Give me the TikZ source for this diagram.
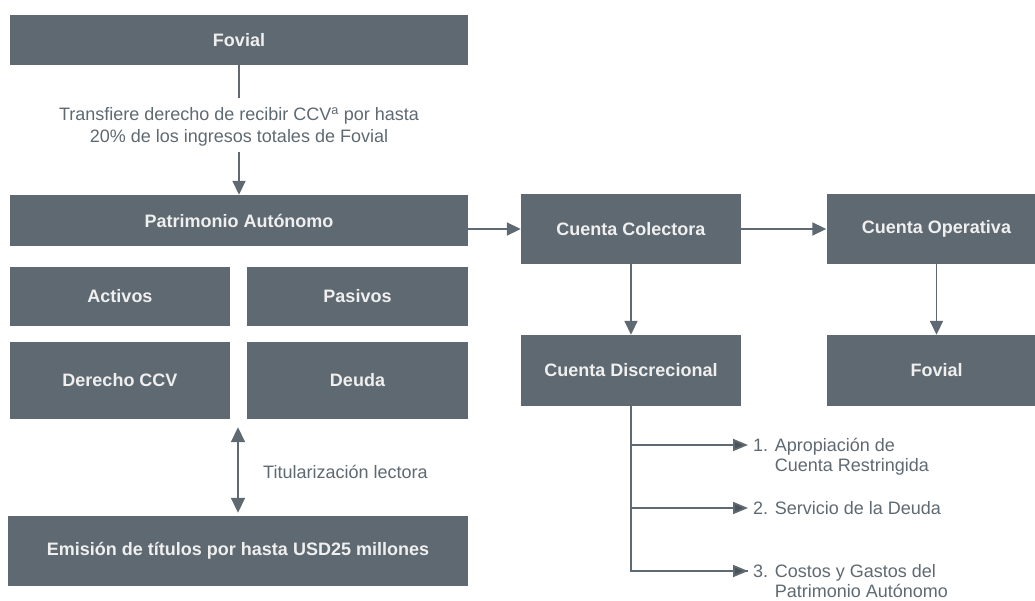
\documentclass[tikz,border=0pt]{standalone}
\usepackage{fontspec}
\setmainfont{Liberation Sans}
\usepackage{xcolor}
\usetikzlibrary{arrows.meta}
\definecolor{boxgray}{HTML}{5E6971}
\definecolor{boxtext}{HTML}{EFEFEF}
\definecolor{labelgray}{HTML}{5E6971}
\definecolor{tipgray}{HTML}{4D5358}
\tikzstyle{cuenta} = [rectangle, fill=boxgray, text=boxtext, inner sep=0pt,
    font=\fontsize{18}{21}\selectfont\bfseries]
\tikzstyle{texto} = [text=labelgray, inner sep=0pt, font=\fontsize{18}{21.5}\selectfont]
\tikzstyle{lista} = [text=labelgray, inner sep=0pt, font=\fontsize{18}{20}\selectfont]
\tikzstyle{flecha} = [draw=boxgray, line width=1.8pt, -{Triangle[width=13pt,length=14pt]}]
\tikzstyle{rama} = [draw=boxgray, line width=1.8pt, -{Triangle[width=12pt,length=15pt,fill=tipgray]}]

\begin{document}
\begin{tikzpicture}[x=1pt, y=-1pt]
\useasboundingbox (0,0) rectangle (1035,601);
\node[cuenta, minimum width=458pt, minimum height=50pt] (fovial) at (239,40) {Fovial};
\node[cuenta, minimum width=458pt, minimum height=51pt] (patrimonio) at (239,220.5) {Patrimonio Autónomo};
\node[cuenta, minimum width=220pt, minimum height=59pt] (activos) at (120,296.5) {Activos};
\node[cuenta, minimum width=221pt, minimum height=59pt] (pasivos) at (357.5,296.5) {Pasivos};
\node[cuenta, minimum width=220pt, minimum height=77pt] (derecho) at (120,380.5) {Derecho CCV};
\node[cuenta, minimum width=221pt, minimum height=77pt] (deuda) at (357.5,380.5) {Deuda};
\node[cuenta, minimum width=460pt, minimum height=70pt] (emision) at (238,551) {Emisión de títulos por hasta USD25 millones};
\node[cuenta, minimum width=220pt, minimum height=70pt] (colectora) at (631,229) {Cuenta Colectora};
\node[cuenta, minimum width=220pt, minimum height=70pt] (operativa) at (936.5,229) {Cuenta Operativa};
\node[cuenta, minimum width=220pt, minimum height=71pt] (discrecional) at (631,370.5) {Cuenta Discrecional};
\node[cuenta, minimum width=220pt, minimum height=71pt] (fovialdos) at (936.5,370.5) {Fovial};

\node[texto, align=center] (transf) at (239,127)
    {Transfiere derecho de recibir CCV\textsuperscript{a} por hasta\\20\% de los ingresos totales de Fovial};
\node[texto, anchor=west] (titular) at (263,472) {Titularización lectora};

\coordinate (uno) at (748,445);
\coordinate (dos) at (748,508);
\coordinate (tres) at (748,571);
\node[lista, anchor=base west] (apropiacion) at ([xshift=5pt, yshift=-6pt]uno)
    {\begin{tabular}[t]{@{}l@{ }l@{}}1. & Apropiación de\\ & Cuenta Restringida\end{tabular}};
\node[lista, anchor=base west] (servicio) at ([xshift=5pt, yshift=-6pt]dos) {2. Servicio de la Deuda};
\node[lista, anchor=base west] (costos) at ([xshift=5pt, yshift=-6pt]tres)
    {\begin{tabular}[t]{@{}l@{ }l@{}}3. & Costos y Gastos del\\ & Patrimonio Autónomo\end{tabular}};

\draw[draw=boxgray, line width=1.8pt, shorten >=10pt] (fovial.south) -- (transf.north);
\draw[flecha, shorten <=6pt] (transf.south) -- (patrimonio.north);
\draw[flecha] (patrimonio.east |- colectora.west) -- (colectora.west);
\draw[flecha] (colectora) -- (operativa);
\draw[flecha] (colectora) -- (discrecional);
\draw[flecha] (operativa) -- (fovialdos);
\draw[draw=boxgray, line width=1.8pt, {Triangle[width=14pt,length=15pt]}-{Triangle[width=14pt,length=15pt]},
    shorten <=8pt, shorten >=3pt] (emision.north |- derecho.south) -- (emision.north);
\draw[draw=boxgray, line width=1.8pt] (discrecional.south) |- (tres);
\draw[rama] (discrecional.south |- uno) -- (uno);
\draw[rama] (discrecional.south |- dos) -- (dos);
\draw[rama] (discrecional.south |- tres) -- (tres);
\end{tikzpicture}
\end{document}
